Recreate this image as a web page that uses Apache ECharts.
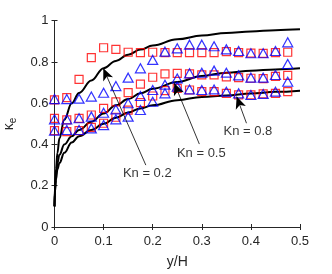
<!DOCTYPE html>
<html><head><meta charset="utf-8">
<script src="https://cdn.jsdelivr.net/npm/echarts@6/dist/echarts.min.js"></script>
<style>html,body{margin:0;padding:0;background:#fff}#c{width:332px;height:274px}</style>
</head><body><div id="c"></div>
<script>
const xTicks = [0, 0.1, 0.2, 0.3, 0.4, 0.5];
const yTicks = [0, 0.2, 0.4, 0.6, 0.8, 1];
const xPos = [0,0.025,0.05,0.075,0.1,0.125,0.15,0.175,0.2,0.225,0.25,0.275,0.3,0.325,0.35,0.375,0.4,0.425,0.45,0.475];
const redA = [0.616,0.627,0.716,0.821,0.869,0.861,0.847,0.845,0.847,0.845,0.845,0.845,0.845,0.845,0.850,0.845,0.843,0.842,0.845,0.847];
const blueA = [0.620,0.620,0.622,0.632,0.651,0.683,0.724,0.769,0.810,0.850,0.866,0.884,0.884,0.876,0.861,0.853,0.842,0.842,0.853,0.895];
const redB = [0.527,0.519,0.527,0.543,0.575,0.607,0.651,0.693,0.726,0.742,0.745,0.742,0.737,0.737,0.728,0.724,0.721,0.719,0.730,0.735];
const blueB = [0.522,0.522,0.527,0.535,0.554,0.570,0.600,0.635,0.664,0.690,0.720,0.745,0.748,0.758,0.748,0.735,0.724,0.724,0.737,0.790];
const redC = [0.467,0.462,0.467,0.483,0.503,0.532,0.567,0.603,0.635,0.661,0.672,0.664,0.656,0.656,0.648,0.640,0.640,0.645,0.648,0.656];
const blueC = [0.467,0.470,0.470,0.478,0.494,0.522,0.535,0.567,0.607,0.648,0.680,0.667,0.664,0.667,0.656,0.648,0.640,0.645,0.656,0.704];

const curveX = [0,0.001,0.003,0.006,0.01,0.02,0.035,0.05,0.075,0.1,0.125,0.15,0.175,0.2,0.25,0.3,0.35,0.4,0.45,0.5];
const curveA = [0.1,0.2,0.28,0.36,0.43,0.52,0.6,0.65,0.71,0.77,0.805,0.835,0.86,0.88,0.91,0.928,0.94,0.948,0.954,0.958];
const curveB = [0.1,0.18,0.25,0.31,0.35,0.4,0.44,0.47,0.51,0.55,0.59,0.62,0.648,0.67,0.703,0.732,0.748,0.757,0.764,0.769];
const curveC = [0.1,0.17,0.23,0.28,0.31,0.36,0.41,0.44,0.47,0.5,0.53,0.555,0.575,0.59,0.615,0.63,0.638,0.647,0.655,0.661];

const labels = ['Kn = 0.2', 'Kn = 0.5', 'Kn = 0.8'];
const labelPos = [[0.189,0.26],[0.299,0.357],[0.394,0.465]];
const arrowTail = [[0.186,0.30],[0.295,0.402],[0.391,0.503]];
const arrowTip = [[0.0994,0.769],[0.244,0.697],[0.371,0.632]];

const pair = (xs, ys) => xs.map((x, i) => [x, ys[i]]);
const txt = '#262626';
const font = 'Liberation Sans, Arial, Helvetica, sans-serif';

const chart = echarts.init(document.getElementById('c'), null, {renderer: 'canvas'});

function scatter(ys, sym, color) {
  return {
    type: 'scatter', xAxisIndex: 0, yAxisIndex: 0,
    data: pair(xPos, ys), symbol: sym, symbolSize: sym === 'rect' ? 8 : [10, 9],
    itemStyle: {color: 'rgba(0,0,0,0)', borderColor: color, borderWidth: 1.2},
    z: sym === 'rect' ? 3 : 4, silent: true
  };
}
function curve(ys) {
  return {
    type: 'line', xAxisIndex: 0, yAxisIndex: 0, data: pair(curveX, ys),
    showSymbol: false, smooth: 0.4, smoothMonotone: 'x',
    lineStyle: {color: '#000', width: 2}, z: 2, silent: true
  };
}

const axisCommon = {
  type: 'value',
  axisLine: {show: true, lineStyle: {color: txt, width: 1}},
  axisTick: {show: true, inside: true, length: 3, lineStyle: {color: txt}},
  splitLine: {show: false}
};

const option = {
  animation: false,
  grid: {left: 54.5, right: 32, top: 20.7, bottom: 47, containLabel: false, outerBoundsMode: 'none'},
  xAxis: [
    Object.assign({}, axisCommon, {
      min: xTicks[0], max: xTicks[xTicks.length - 1], interval: 0.1,
      name: 'y/H', nameLocation: 'middle', nameGap: 28,
      nameTextStyle: {color: txt, fontSize: 14, fontFamily: font},
      axisLabel: {color: txt, fontSize: 13, fontFamily: font, margin: 8,
        formatter: v => String(+v.toFixed(1))}
    }),
    Object.assign({}, axisCommon, {
      position: 'top', min: 0, max: 0.5, interval: 0.1, axisLabel: {show: false}
    })
  ],
  yAxis: [
    Object.assign({}, axisCommon, {
      min: yTicks[0], max: yTicks[yTicks.length - 1], interval: 0.2,
      name: '{k|κ}{e|e}', nameLocation: 'middle', nameGap: 36, nameRotate: 90,
      nameTextStyle: {color: txt, fontFamily: font,
        rich: {k: {fontSize: 14, color: txt, fontFamily: font},
               e: {fontSize: 10, color: txt, fontFamily: font, verticalAlign: 'bottom', padding: [8, 0, 0, 0]}}},
      axisLabel: {color: txt, fontSize: 13, fontFamily: font, margin: 6,
        formatter: v => String(+v.toFixed(1))}
    }),
    Object.assign({}, axisCommon, {
      position: 'right', min: 0, max: 1, interval: 0.2, axisLabel: {show: false}
    })
  ],
  series: [
    curve(curveA), curve(curveB), curve(curveC),
    scatter(redA, 'rect', '#ff0000'), scatter(redB, 'rect', '#ff0000'), scatter(redC, 'rect', '#ff0000'),
    scatter(blueA, 'triangle', '#0000ff'), scatter(blueB, 'triangle', '#0000ff'), scatter(blueC, 'triangle', '#0000ff'),
    {
      type: 'scatter', xAxisIndex: 0, yAxisIndex: 0, symbolSize: 0, silent: true, z: 6,
      data: labels.map((t, i) => ({value: labelPos[i], name: t})),
      label: {show: true, position: 'inside', formatter: p => p.name, color: '#000', fontSize: 13, fontFamily: font},
      markLine: {
        silent: true, animation: false, symbol: ['none', 'arrow'], symbolSize: [8, 12],
        lineStyle: {color: '#000', width: 0.8, type: 'solid'}, label: {show: false},
        data: arrowTail.map((t, i) => [{coord: t}, {coord: arrowTip[i]}])
      }
    }
  ]
};
chart.setOption(option);
</script></body></html>
